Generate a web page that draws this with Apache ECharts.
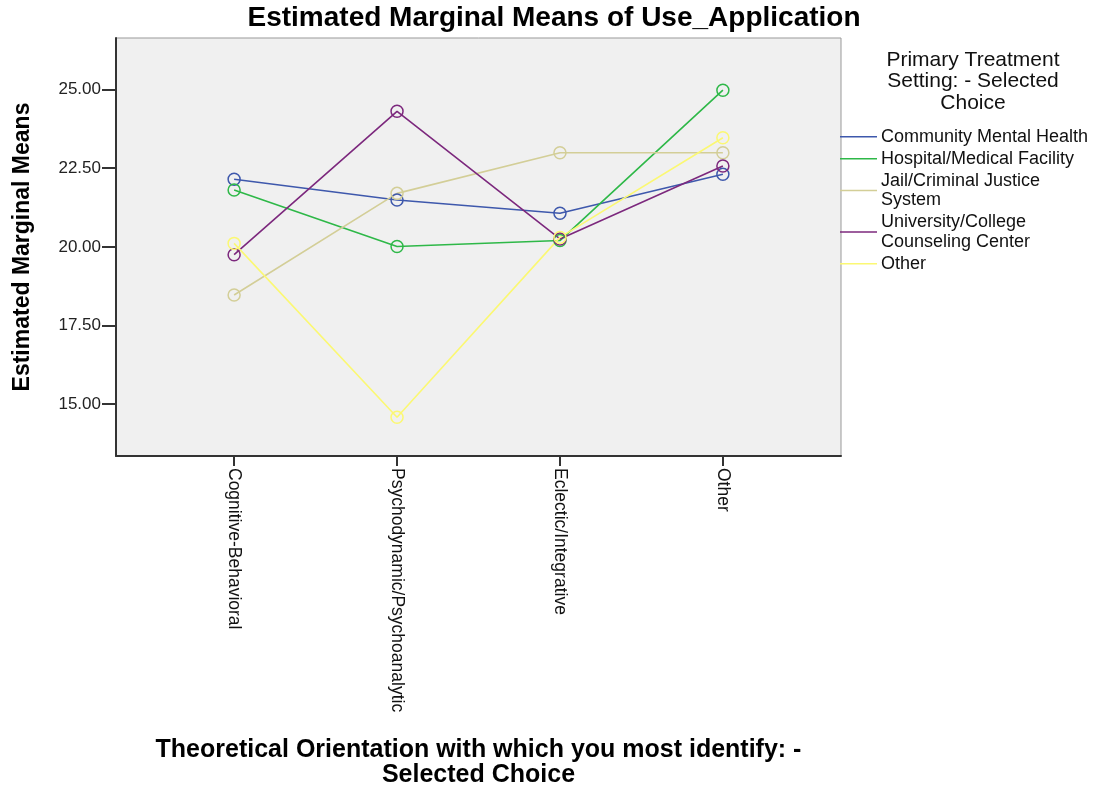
<!DOCTYPE html>
<html>
  <head>
    <title></title>
    <meta charset="UTF-8" />
    <script src="https://cdn.jsdelivr.net/npm/echarts@6/dist/echarts.min.js"></script>
    <style>
      body { margin: 0; background: #fff; }
    </style>
  </head>
  <body>
    <div id="main"></div>
    <script>
      const width = 1108;
      const height = 793;
      const main = document.getElementById('main');
      main.style.width = `${width}px`;
      main.style.height = `${height}px`;

      const categories = [
        'Cognitive-Behavioral',
        'Psychodynamic/Psychoanalytic',
        'Eclectic/Integrative',
        'Other',
      ];
      const settings = [
        'Community Mental Health',
        'Hospital/Medical Facility',
        'Jail/Criminal Justice\nSystem',
        'University/College\nCounseling Center',
        'Other',
      ];
      const communityMentalHealth = [22.15, 21.49, 21.07, 22.31];
      const hospitalMedical = [21.81, 20.01, 20.2, 24.98];
      const jailCriminalJustice = [18.47, 21.7, 22.99, 22.99];
      const universityCounseling = [19.75, 24.31, 20.25, 22.57];
      const otherSetting = [20.11, 14.58, 20.3, 23.47];
      const yTicks = [15, 17.5, 20, 22.5, 25];

      const seriesValues = [
        communityMentalHealth,
        hospitalMedical,
        jailCriminalJustice,
        universityCounseling,
        otherSetting,
      ];
      const colors = ['#3e58ac', '#2eb848', '#d3ce97', '#7c287d', '#fbf873'];
      const font = '"Liberation Sans", Arial, sans-serif';

      const series = settings.map((name, i) => ({
        name,
        type: 'line',
        data: seriesValues[i].map((v, j) => [j, v]),
        symbol: 'circle',
        symbolSize: 12,
        lineStyle: { width: 1.6, color: colors[i] },
        itemStyle: {
          color: 'rgba(0,0,0,0)',
          borderColor: colors[i],
          borderWidth: 1.5,
        },
        emphasis: { disabled: true },
        animation: false,
      }));

      // legend keys: thin coloured strokes only
      const legendData = settings.map((name, i) => ({
        name,
        itemStyle: { color: colors[i], borderWidth: 0 },
      }));

      const myChart = echarts.init(main);
      const option = {
        textStyle: { fontFamily: font },
        title: [
          {
            text: 'Estimated Marginal Means of Use_Application',
            left: 554,
            top: 4,
            padding: 0,
            textAlign: 'center',
            textStyle: {
              fontFamily: font,
              fontSize: 28,
              fontWeight: 'bold',
              lineHeight: 28,
              color: '#000',
            },
          },
          {
            text: 'Primary Treatment\nSetting: - Selected\nChoice',
            left: 973,
            top: 49,
            padding: 0,
            textAlign: 'center',
            textStyle: {
              fontFamily: font,
              fontSize: 21,
              fontWeight: 'normal',
              lineHeight: 21.5,
              color: '#111',
            },
          },
        ],
        legend: {
          orient: 'vertical',
          left: 840,
          top: 127,
          padding: 0,
          icon: 'rect',
          itemWidth: 37,
          itemHeight: 1.5,
          itemGap: 2.5,
          itemStyle: { borderWidth: 0 },
          lineStyle: { width: 0 },
          textStyle: {
            fontFamily: font,
            fontSize: 18,
            lineHeight: 19.5,
            color: '#111',
            padding: [0, 0, 0, -1],
          },
          data: legendData,
        },
        grid: {
          left: 116,
          top: 38,
          width: 725,
          height: 420,
          show: true,
          backgroundColor: '#f0f0f0',
          borderColor: '#999',
          borderWidth: 1,
        },
        xAxis: {
          type: 'value',
          min: -0.725,
          max: 3.725,
          name: 'Theoretical Orientation with which you most identify: -\nSelected Choice',
          nameLocation: 'middle',
          nameGap: 282,
          nameTextStyle: {
            fontFamily: font,
            fontSize: 25,
            fontWeight: 'bold',
            lineHeight: 25,
            color: '#000',
          },
          splitLine: { show: false },
          axisLine: {
            show: true,
            onZero: false,
            lineStyle: { color: '#333', width: 2 },
          },
          axisTick: {
            show: true,
            length: 10,
            customValues: [0, 1, 2, 3],
            lineStyle: { color: '#333', width: 2 },
          },
          axisLabel: {
            customValues: [0, 1, 2, 3],
            rotate: -90,
            margin: 12,
            fontFamily: font,
            fontSize: 17.5,
            color: '#111',
            formatter: (v) => categories[Math.round(v)],
          },
        },
        yAxis: {
          type: 'value',
          min: 13.35,
          max: 26.64,
          name: 'Estimated Marginal Means',
          nameLocation: 'middle',
          nameRotate: 90,
          nameGap: 82,
          nameTextStyle: {
            fontFamily: font,
            fontSize: 23,
            fontWeight: 'bold',
            color: '#000',
          },
          splitLine: { show: false },
          axisLine: {
            show: true,
            onZero: false,
            lineStyle: { color: '#333', width: 2 },
          },
          axisTick: {
            show: true,
            length: 14,
            customValues: yTicks,
            lineStyle: { color: '#333', width: 2 },
          },
          axisLabel: {
            customValues: yTicks,
            margin: 15,
            fontFamily: font,
            fontSize: 17,
            color: '#222',
            formatter: (v) => v.toFixed(2),
          },
        },
        series,
      };
      myChart.setOption(option);
    </script>
  </body>
</html>
